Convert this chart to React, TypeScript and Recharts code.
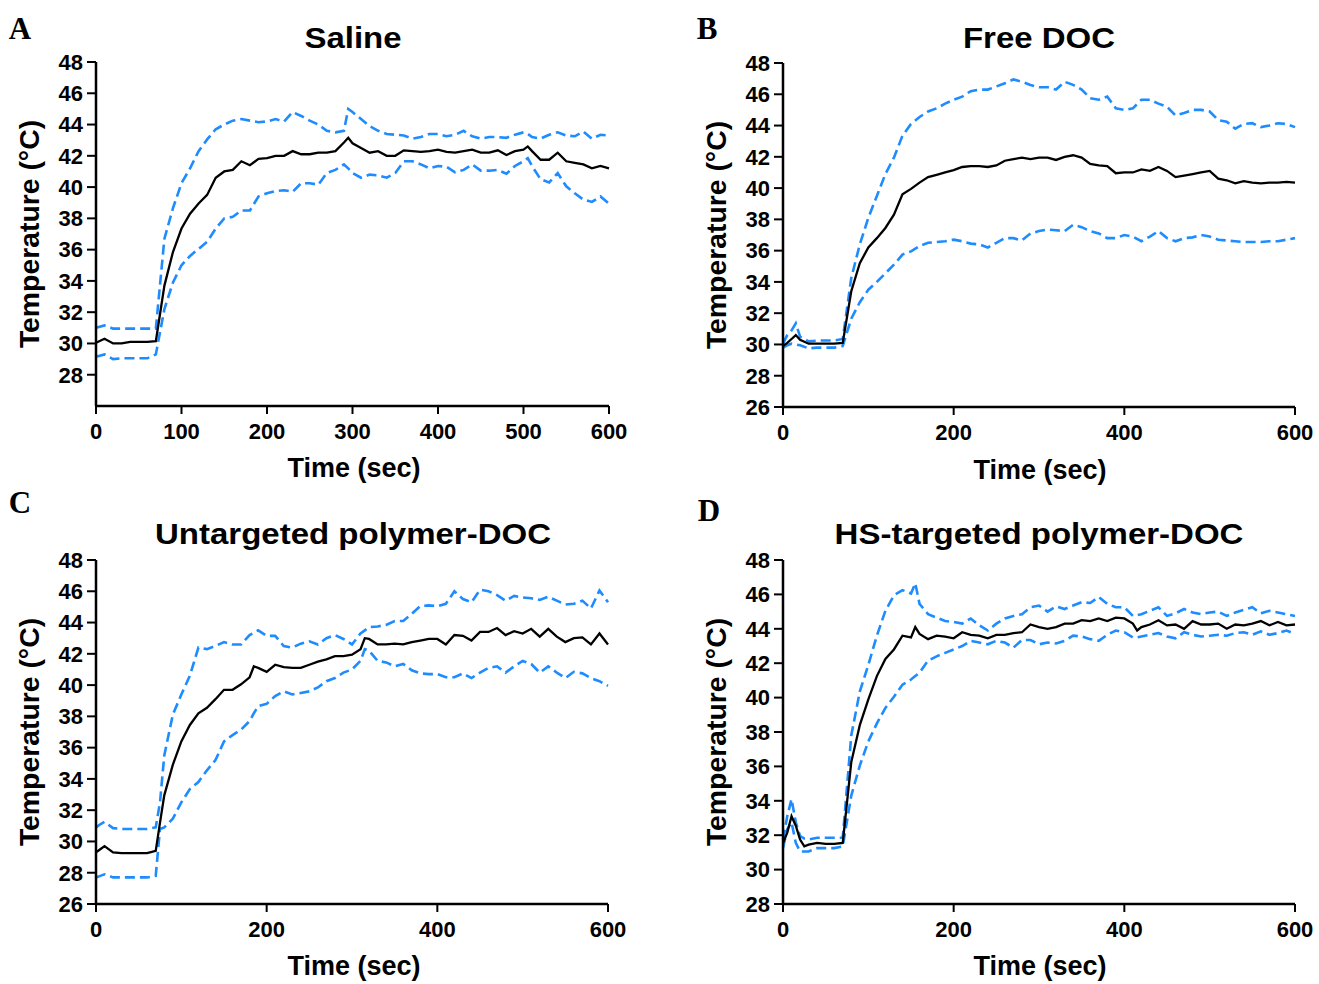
import React from "react";
import { LineChart, Line, XAxis, YAxis } from "recharts";

// ---------- Panel A : Saline ----------
const salineTime = [0,10,20,30,40,50,60,70,80,90,100,110,120,130,140,150,160,170,180,190,200,210,220,230,240,250,260,270,280,290,295,300,310,320,330,340,350,360,370,380,390,400,410,420,430,440,450,460,470,480,490,500,505,510,520,530,540,550,560,570,580,590,600];
const salineMean = [30.05,30.3,30.0,30.0,30.1,30.1,30.1,30.15,33.7,35.85,37.35,38.3,38.95,39.5,40.6,41.0,41.1,41.65,41.4,41.8,41.85,42.0,42.0,42.3,42.1,42.1,42.2,42.2,42.3,42.85,43.15,42.8,42.5,42.2,42.3,42.0,42.0,42.35,42.3,42.25,42.3,42.4,42.25,42.2,42.3,42.4,42.2,42.2,42.35,42.05,42.3,42.4,42.6,42.3,41.75,41.75,42.2,41.65,41.55,41.45,41.2,41.35,41.2];
const salineUpper = [31.0,31.15,30.95,30.95,30.95,30.95,30.95,30.95,36.7,38.65,40.25,41.2,42.3,43.05,43.7,44.0,44.25,44.35,44.25,44.15,44.2,44.35,44.2,44.8,44.55,44.25,44.0,43.6,43.5,43.6,45.0,44.8,44.35,43.9,43.6,43.4,43.35,43.3,43.1,43.2,43.4,43.4,43.25,43.35,43.6,43.25,43.1,43.2,43.2,43.15,43.35,43.5,43.4,43.2,43.1,43.35,43.5,43.3,43.25,43.55,43.1,43.35,43.3];
const salineLower = [29.15,29.3,29.0,29.05,29.05,29.05,29.05,29.3,32.2,33.9,35.0,35.6,36.05,36.5,37.35,38.0,38.1,38.5,38.5,39.4,39.6,39.75,39.8,39.7,40.25,40.25,40.15,40.9,41.1,41.45,41.2,40.9,40.6,40.8,40.75,40.6,40.9,41.65,41.65,41.45,41.2,41.35,41.3,40.95,41.1,41.45,41.05,41.05,41.1,40.85,41.35,41.65,41.85,41.35,40.5,40.3,40.9,40.05,39.6,39.2,39.05,39.4,38.95];

// ---------- Panel B : Free DOC ----------
const freeTime = [0,5,10,15,20,30,40,50,60,70,80,90,100,110,120,130,140,150,160,170,180,190,200,210,220,230,240,250,260,270,280,290,300,310,320,330,340,350,360,370,380,390,400,410,420,430,440,450,460,470,480,490,500,510,520,530,540,550,560,570,580,590,600];
const freeMean = [29.9,30.1,30.35,30.6,30.3,30.05,30.05,30.05,30.05,30.1,33.4,35.2,36.2,36.8,37.45,38.3,39.6,39.95,40.35,40.7,40.85,41.0,41.15,41.35,41.4,41.4,41.35,41.45,41.75,41.85,41.95,41.85,41.95,41.95,41.8,42.0,42.1,41.95,41.55,41.45,41.4,40.95,41.0,41.0,41.2,41.1,41.35,41.1,40.7,40.8,40.9,41.0,41.1,40.6,40.5,40.3,40.45,40.35,40.3,40.35,40.35,40.4,40.35];
const freeUpper = [30.05,30.6,30.9,31.35,30.5,30.2,30.25,30.25,30.25,30.35,34.25,36.4,38.1,39.5,40.9,41.95,43.35,44.1,44.55,44.9,45.1,45.4,45.65,45.85,46.2,46.3,46.3,46.5,46.7,46.95,46.8,46.6,46.45,46.45,46.3,46.8,46.6,46.3,45.75,45.65,45.85,45.1,45.0,45.1,45.65,45.65,45.4,45.2,44.65,44.8,45.0,45.0,44.9,44.35,44.25,43.8,44.1,44.15,43.9,44.0,44.15,44.1,43.9];
const freeLower = [29.8,29.95,30.05,30.0,29.95,29.75,29.8,29.8,29.8,29.9,31.65,32.7,33.5,34.0,34.55,35.1,35.75,35.95,36.3,36.5,36.55,36.6,36.7,36.6,36.45,36.4,36.2,36.5,36.8,36.8,36.65,37.1,37.25,37.35,37.3,37.25,37.65,37.5,37.25,37.1,36.8,36.8,37.0,36.9,36.6,36.9,37.25,36.8,36.6,36.8,36.85,37.0,36.9,36.7,36.65,36.6,36.55,36.55,36.55,36.6,36.6,36.7,36.8];

// ---------- Panel C : Untargeted polymer-DOC ----------
const untargTime = [0,5,10,20,30,40,50,60,70,75,80,90,100,110,120,130,140,150,160,170,180,185,190,200,210,220,230,240,250,260,270,280,290,300,310,315,320,330,340,350,360,370,380,390,400,410,420,430,440,450,460,470,480,490,500,510,520,530,540,550,560,570,580,590,600];
const untargMean = [29.3,29.5,29.7,29.3,29.25,29.25,29.25,29.25,29.4,31.2,32.95,34.9,36.4,37.45,38.2,38.55,39.1,39.7,39.7,40.05,40.5,41.2,41.1,40.85,41.3,41.15,41.1,41.1,41.3,41.5,41.65,41.85,41.85,41.95,42.3,43.0,42.95,42.6,42.6,42.65,42.6,42.75,42.85,42.95,42.95,42.6,43.2,43.15,42.85,43.4,43.4,43.65,43.2,43.45,43.3,43.6,43.1,43.6,43.1,42.75,43.0,43.05,42.6,43.3,42.6];
const untargUpper = [30.9,31.1,31.25,30.85,30.8,30.8,30.8,30.8,30.9,32.5,35.5,38.1,39.4,40.6,42.4,42.3,42.5,42.75,42.6,42.6,43.2,43.35,43.5,43.15,43.15,42.5,42.4,42.65,42.8,42.6,43.0,43.2,42.95,42.6,43.3,43.5,43.7,43.75,43.85,44.1,44.1,44.55,45.05,45.1,45.05,45.2,46.0,45.5,45.3,46.1,46.0,45.75,45.4,45.7,45.6,45.55,45.45,45.65,45.4,45.15,45.2,45.4,44.9,46.05,45.3];
const untargLower = [27.7,27.8,27.9,27.7,27.7,27.7,27.7,27.7,27.8,30.8,30.9,31.45,32.5,33.35,33.8,34.55,35.2,36.4,36.8,37.15,37.7,38.2,38.65,38.8,39.3,39.6,39.4,39.5,39.6,39.85,40.25,40.45,40.8,41.0,41.55,42.3,42.2,41.55,41.45,41.2,41.35,40.95,40.75,40.7,40.7,40.5,40.5,40.75,40.45,40.8,41.1,41.2,40.8,41.2,41.55,41.35,40.8,41.2,40.8,40.45,40.85,40.75,40.45,40.25,39.95];

// ---------- Panel D : HS-targeted polymer-DOC ----------
const hsTime = [0,5,10,15,20,25,30,40,50,60,70,80,90,100,110,120,130,140,150,155,160,170,180,190,200,210,220,230,240,250,260,270,280,290,300,310,320,330,340,350,360,370,380,390,400,410,415,420,430,440,450,460,470,480,490,500,510,520,530,540,550,560,570,580,590,600];
const hsMean = [31.55,32.15,33.1,32.55,31.75,31.35,31.45,31.55,31.5,31.5,31.55,36.25,38.4,39.9,41.25,42.25,42.8,43.6,43.5,44.1,43.7,43.4,43.6,43.55,43.45,43.8,43.65,43.6,43.45,43.65,43.65,43.75,43.8,44.25,44.1,44.0,44.1,44.3,44.3,44.5,44.45,44.6,44.45,44.65,44.6,44.3,43.9,44.1,44.25,44.5,44.2,44.25,44.0,44.45,44.25,44.25,44.3,44.0,44.25,44.2,44.3,44.45,44.2,44.4,44.2,44.25];
const hsUpper = [31.75,33.1,34.1,32.75,31.95,31.8,31.75,31.85,31.85,31.85,31.85,37.8,40.35,41.9,43.6,45.05,45.95,46.25,46.05,46.65,45.45,44.85,44.65,44.45,44.4,44.3,44.6,44.2,43.9,44.3,44.6,44.75,44.85,45.25,45.35,45.0,45.3,45.15,45.35,45.55,45.5,45.85,45.45,45.25,45.25,44.75,44.8,44.85,45.05,45.25,44.75,44.9,45.15,44.95,44.85,44.95,45.0,44.75,44.95,45.1,45.25,44.9,45.05,44.95,44.85,44.75];
const hsLower = [31.25,32.35,32.75,31.55,31.05,31.05,31.05,31.25,31.25,31.25,31.35,34.3,36.05,37.45,38.5,39.4,40.05,40.75,41.05,41.25,41.45,42.15,42.4,42.6,42.8,43.0,43.3,43.2,43.1,43.3,43.2,42.9,43.35,43.35,43.1,43.2,43.15,43.3,43.6,43.55,43.4,43.3,43.65,43.9,43.8,43.5,43.5,43.55,43.65,43.75,43.55,43.45,43.8,43.65,43.55,43.6,43.65,43.6,43.75,43.8,43.65,43.85,43.65,43.75,43.9,43.7];

// ---------- Tick labels ----------
const xTicksA = [0, 100, 200, 300, 400, 500, 600];
const xTicksOther = [0, 200, 400, 600];
const yTicks28 = [28, 30, 32, 34, 36, 38, 40, 42, 44, 46, 48];
const yTicks26 = [26, 28, 30, 32, 34, 36, 38, 40, 42, 44, 46, 48];

const FONT = "'Liberation Sans', Arial, Helvetica, sans-serif";
const SERIF = "'Liberation Serif', 'Times New Roman', serif";
const BLUE = "#1e8cff";
const CW = 660;
const CH = 480;

type PanelProps = {
  left: number;
  top: number;
  margin: { top: number; right: number; bottom: number; left: number };
  time: number[];
  mean: number[];
  upper: number[];
  lower: number[];
  xTicks: number[];
  yTicks: number[];
  yDomain: [number, number];
};

function Panel(p: PanelProps) {
  const rows = p.time.map((t, i) => ({
    t,
    mean: p.mean[i],
    upper: p.upper[i],
    lower: p.lower[i],
  }));
  const tickStyle = { fill: "#000", fontSize: 22, fontWeight: 700, fontFamily: FONT };
  return (
    <div style={{ position: "absolute", left: p.left, top: p.top, width: CW, height: CH }}>
      <LineChart width={CW} height={CH} data={rows} margin={p.margin}>
        <XAxis
          dataKey="t"
          type="number"
          domain={[0, 600]}
          ticks={p.xTicks}
          interval={0}
          height={40}
          tickSize={8}
          tickMargin={9}
          axisLine={{ stroke: "#000", strokeWidth: 2.5 }}
          tickLine={{ stroke: "#000", strokeWidth: 2 }}
          tick={tickStyle}
        />
        <YAxis
          type="number"
          domain={p.yDomain}
          ticks={p.yTicks}
          interval={0}
          allowDataOverflow
          width={96}
          tickSize={9}
          tickMargin={4}
          axisLine={{ stroke: "#000", strokeWidth: 2.5 }}
          tickLine={{ stroke: "#000", strokeWidth: 2 }}
          tick={tickStyle}
        />
        <Line dataKey="upper" type="linear" stroke={BLUE} strokeWidth={2.6} strokeDasharray="10 5" dot={false} isAnimationActive={false} />
        <Line dataKey="lower" type="linear" stroke={BLUE} strokeWidth={2.6} strokeDasharray="10 5" dot={false} isAnimationActive={false} />
        <Line dataKey="mean" type="linear" stroke="#000" strokeWidth={2.3} dot={false} isAnimationActive={false} />
      </LineChart>
    </div>
  );
}

function Txt(props: { x: number; y: number; size: number; text: string; rotate?: boolean; serif?: boolean; stretch?: number }) {
  const s = props.stretch ?? 1;
  const tf = props.rotate
    ? `translate(-50%, -50%) rotate(-90deg) scaleX(${s})`
    : `translate(-50%, -50%) scaleX(${s})`;
  return (
    <div
      style={{
        position: "absolute",
        left: props.x,
        top: props.y,
        transform: tf,
        fontFamily: props.serif ? SERIF : FONT,
        fontWeight: 700,
        fontSize: props.size,
        lineHeight: 1,
        whiteSpace: "nowrap",
        color: "#000",
      }}
    >
      {props.text}
    </div>
  );
}

export default function App() {
  return (
    <div style={{ position: "absolute", left: 0, top: 0, width: 1319, height: 984, background: "#fff", overflow: "hidden" }}>
      <Panel left={0} top={0} margin={{ top: 62, right: 51, bottom: 34, left: 0 }}
        time={salineTime} mean={salineMean} upper={salineUpper} lower={salineLower}
        xTicks={xTicksA} yTicks={yTicks28} yDomain={[26, 48]} />
      <Panel left={687} top={0} margin={{ top: 63, right: 52, bottom: 33, left: 0 }}
        time={freeTime} mean={freeMean} upper={freeUpper} lower={freeLower}
        xTicks={xTicksOther} yTicks={yTicks26} yDomain={[26, 48]} />
      <Panel left={0} top={497} margin={{ top: 63, right: 52, bottom: 33, left: 0 }}
        time={untargTime} mean={untargMean} upper={untargUpper} lower={untargLower}
        xTicks={xTicksOther} yTicks={yTicks26} yDomain={[26, 48]} />
      <Panel left={687} top={497} margin={{ top: 63, right: 52, bottom: 33, left: 0 }}
        time={hsTime} mean={hsMean} upper={hsUpper} lower={hsLower}
        xTicks={xTicksOther} yTicks={yTicks28} yDomain={[28, 48]} />

      <Txt x={20} y={28} size={31} text="A" serif />
      <Txt x={707} y={28} size={31} text="B" serif />
      <Txt x={20} y={502} size={31} text="C" serif />
      <Txt x={709} y={510} size={31} text="D" serif />

      <Txt x={353} y={38} size={30} text="Saline" stretch={1.1} />
      <Txt x={1039} y={38} size={30} text="Free DOC" stretch={1.1} />
      <Txt x={353} y={534} size={30} text="Untargeted polymer-DOC" stretch={1.1} />
      <Txt x={1039} y={534} size={30} text="HS-targeted polymer-DOC" stretch={1.1} />

      <Txt x={354} y={468} size={27} text="Time (sec)" />
      <Txt x={1040} y={470} size={27} text="Time (sec)" />
      <Txt x={354} y={966} size={27} text="Time (sec)" />
      <Txt x={1040} y={966} size={27} text="Time (sec)" />

      <Txt x={30} y={234} size={27} text="Temperature (°C)" rotate stretch={1.05} />
      <Txt x={717} y={235} size={27} text="Temperature (°C)" rotate stretch={1.05} />
      <Txt x={30} y={732} size={27} text="Temperature (°C)" rotate stretch={1.05} />
      <Txt x={717} y={732} size={27} text="Temperature (°C)" rotate stretch={1.05} />
    </div>
  );
}
